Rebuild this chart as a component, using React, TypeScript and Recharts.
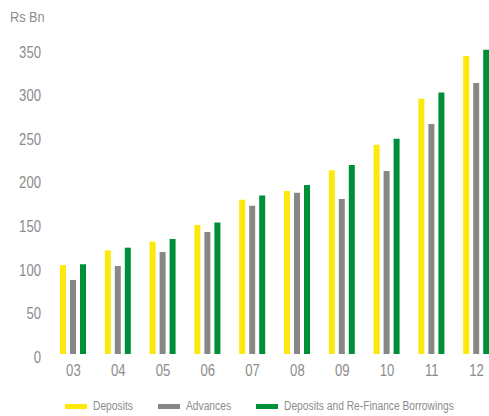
import React from "react";
import { BarChart, Bar, XAxis, YAxis, Legend } from "recharts";

const years = ["03", "04", "05", "06", "07", "08", "09", "10", "11", "12"];
const deposits = [102, 119, 129, 148, 177, 187, 211, 240, 293, 342];
const advances = [85, 101, 117, 140, 170, 185, 178, 210, 264, 311];
const depositsAndRefinance = [103, 122, 132, 151, 182, 194, 217, 247, 300, 349];
const yTicks = [0, 50, 100, 150, 200, 250, 300, 350];

const seriesOrder = ["deposits", "advances", "refinance"];
const legendLeft = [65, 158, 256];

const COLORS = {
  deposits: "#FCE80A",
  advances: "#878787",
  refinance: "#008F39",
};
const TEXT = "#8C8C8C";
const FONT = "'Liberation Sans', Arial, sans-serif";
const NARROW = 0.82;

const data = years.map((year, i) => ({
  year,
  deposits: deposits[i],
  advances: advances[i],
  refinance: depositsAndRefinance[i],
}));

const YTick = (props: any) => {
  const { x, y, payload } = props;
  return (
    <text
      transform={`translate(${x},${y + 3}) scale(${NARROW},1)`}
      dy="0.355em"
      textAnchor="end"
      fill={TEXT}
      fontSize={16}
      fontFamily={FONT}
    >
      {payload.value}
    </text>
  );
};

const XTick = (props: any) => {
  const { x, y, payload } = props;
  return (
    <text
      transform={`translate(${x},${y}) scale(${NARROW},1)`}
      dy="0.71em"
      textAnchor="middle"
      fill={TEXT}
      fontSize={16}
      fontFamily={FONT}
    >
      {payload.value}
    </text>
  );
};

const LegendContent = (props: any) => {
  const payload: any[] = props.payload || [];
  const ordered = seriesOrder
    .map((key) => payload.find((p) => p.dataKey === key))
    .filter(Boolean);
  return (
    <div style={{ position: "relative", height: 20, width: 489, fontFamily: FONT, fontSize: 12.5, color: TEXT }}>
      {ordered.map((entry: any, i: number) => (
        <div
          key={entry.dataKey}
          style={{
            position: "absolute",
            left: legendLeft[i],
            top: 0,
            height: 20,
            display: "flex",
            alignItems: "center",
            whiteSpace: "nowrap",
          }}
        >
          <span style={{ display: "inline-block", width: 22, height: 5, background: entry.color, marginRight: 6 }} />
          <span style={{ display: "inline-block", transform: `scaleX(${NARROW})`, transformOrigin: "left center" }}>
            {entry.value}
          </span>
        </div>
      ))}
    </div>
  );
};

export default function App() {
  return (
    <div style={{ position: "absolute", left: 0, top: 0, width: 489, height: 416, overflow: "hidden", background: "#fff" }}>
      <div
        style={{
          position: "absolute",
          left: 10,
          top: 8,
          fontFamily: FONT,
          fontSize: 15.5,
          color: TEXT,
          lineHeight: "18px",
          whiteSpace: "nowrap",
          transform: `scaleX(${NARROW})`,
          transformOrigin: "left center",
        }}
      >
        Rs Bn
      </div>
      <BarChart
        width={499}
        height={416}
        data={data}
        margin={{ top: 49, right: 0, bottom: 0, left: 0 }}
        barSize={6}
        barGap={4}
      >
        <XAxis
          dataKey="year"
          axisLine={false}
          tickLine={false}
          tickSize={6}
          tickMargin={5}
          height={42}
          tick={<XTick />}
          interval={0}
        />
        <YAxis
          domain={[0, 350]}
          ticks={yTicks}
          axisLine={false}
          tickLine={false}
          tickSize={6}
          tickMargin={4}
          width={51}
          tick={<YTick />}
          interval={0}
        />
        <Legend verticalAlign="bottom" align="left" content={<LegendContent />} wrapperStyle={{ left: 0, bottom: 0, width: 489 }} />
        <Bar dataKey="deposits" name="Deposits" fill={COLORS.deposits} isAnimationActive={false} />
        <Bar dataKey="advances" name="Advances" fill={COLORS.advances} isAnimationActive={false} />
        <Bar
          dataKey="refinance"
          name="Deposits and Re-Finance Borrowings"
          fill={COLORS.refinance}
          isAnimationActive={false}
        />
      </BarChart>
    </div>
  );
}
